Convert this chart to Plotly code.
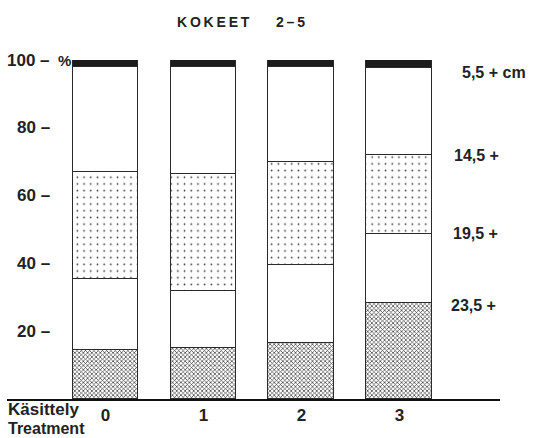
import plotly.graph_objects as go

# ---- data (percent of stems by diameter class, stacked from bottom) ----
categories = ["0", "1", "2", "3"]
s_235 = [14.6, 15.0, 16.5, 28.3]   # 23,5+ cm
s_195 = [20.9, 17.0, 23.1, 20.5]   # 19,5+
s_145 = [31.6, 34.4, 30.3, 23.2]   # 14,5+
s_55 = [30.9, 31.5, 27.9, 25.6]    # 5,5+ cm
s_top = [2.0, 2.1, 2.2, 2.4]       # top band
ytick_vals = [100, 80, 60, 40, 20]
class_labels = ["5,5 + cm", "14,5 +", "19,5 +", "23,5 +"]

W, H = 535, 438
L, R, T, B = 7, 35, 60, 39
pw = W - L - R
ph = H - T - B

def px(x):
    return (x - L) / pw

def py(y):
    return (H - B - y) / ph

FONT = "Liberation Sans, Arial, sans-serif"
xpos = list(range(len(categories)))

fig = go.Figure()
line = dict(color="#2a2a2a", width=1.2)
layers = [
    (s_235, dict(color="white", line=line,
                 pattern=dict(shape="x", size=3, solidity=0.4, fgcolor="#333", bgcolor="white", fillmode="replace"))),
    (s_195, dict(color="white", line=line)),
    (s_145, dict(color="white", line=line,
                 pattern=dict(shape=".", size=6.7, solidity=0.05, fgcolor="#333", bgcolor="white", fillmode="replace"))),
    (s_55, dict(color="white", line=line)),
    (s_top, dict(color="#1c1c1c", line=line)),
]
for vals, marker in layers:
    fig.add_trace(go.Bar(x=xpos, y=vals, width=0.673, marker=marker,
                         hoverinfo="skip", showlegend=False))

ann = []
# y tick labels
for v in ytick_vals:
    ann.append(dict(x=px(52), xref="paper", y=v, yref="y", xanchor="right", yanchor="middle",
                    text=f"<b>{v} –</b>", showarrow=False, font=dict(size=17, color="#222", family=FONT)))
ann.append(dict(x=px(56), xref="paper", y=100, yref="y", xanchor="left", yanchor="middle",
                text="<b>%</b>", showarrow=False, font=dict(size=15, color="#222", family=FONT)))
# right class labels
for txt, (xx, yy) in zip(class_labels, [(460, 72), (452, 155), (451, 233), (449, 305)]):
    ann.append(dict(x=px(xx), xref="paper", y=py(yy), yref="paper", xanchor="left", yanchor="middle",
                    text=f"<b>{txt}</b>", showarrow=False, font=dict(size=16, color="#222", family=FONT)))
# title
ann.append(dict(x=px(175), xref="paper", y=py(22), yref="paper", xanchor="left", yanchor="middle",
                text="<b>K\u2009O\u2009K\u2009E\u2009E\u2009T</b>", showarrow=False,
                font=dict(size=14, color="#222", family=FONT)))
ann.append(dict(x=px(274), xref="paper", y=py(22), yref="paper", xanchor="left", yanchor="middle",
                text="<b>2\u2009–\u20095</b>", showarrow=False,
                font=dict(size=14, color="#222", family=FONT)))
# axis title
ann.append(dict(x=px(6), xref="paper", y=py(410), yref="paper", xanchor="left", yanchor="middle",
                text="<b>Käsittely</b>", showarrow=False, font=dict(size=17, color="#222", family=FONT)))
ann.append(dict(x=px(6), xref="paper", y=py(428), yref="paper", xanchor="left", yanchor="middle",
                text="<b>Treatment</b>", showarrow=False, font=dict(size=16, color="#222", family=FONT)))

fig.update_layout(
    width=W, height=H,
    margin=dict(l=L, r=R, t=T, b=B, pad=0),
    paper_bgcolor="white", plot_bgcolor="white",
    barmode="stack", bargap=0,
    annotations=ann,
    xaxis=dict(range=[-1.005, 4.026], tickvals=xpos, ticktext=[f"<b>{c}</b>" for c in categories],
               showline=True, linecolor="#111", linewidth=1.6, showgrid=False, zeroline=False,
               ticks="", tickfont=dict(size=17, color="#222", family=FONT), fixedrange=True),
    yaxis=dict(range=[0, 100], showticklabels=False, showgrid=False, zeroline=False,
               showline=False, fixedrange=True),
)
fig.write_html("out.html", config={"displayModeBar": False},
               post_script="document.body.style.margin='0';document.body.style.overflow='hidden';")
